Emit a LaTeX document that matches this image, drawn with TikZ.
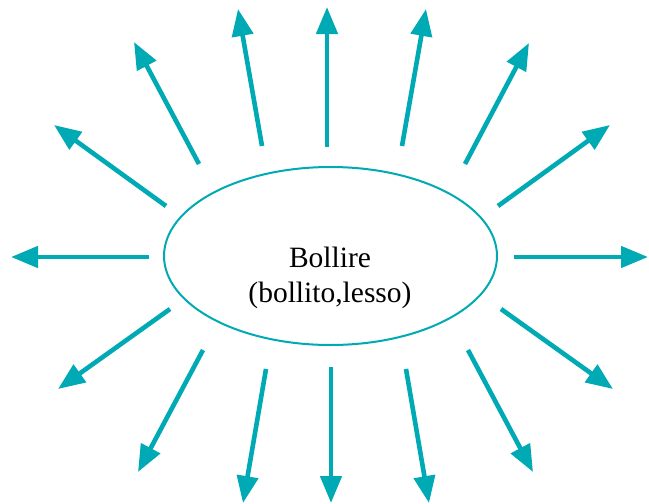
\documentclass[tikz,border=0pt]{standalone}
\usepackage{fontspec}
\setmainfont{Liberation Serif}
\usetikzlibrary{arrows.meta,shapes.geometric}
\definecolor{teal1}{RGB}{0,170,181}
\begin{document}
\begin{tikzpicture}[x=1pt,y=-1pt,
  ray/.style={draw=teal1,line width=4.6pt,-{Triangle[length=27pt,width=21pt]}},
  blob/.style={draw=teal1,line width=2pt,ellipse,minimum width=333pt,minimum height=178pt,inner sep=0pt},
  lbl/.style={align=center,inner sep=0pt,font=\fontsize{29.5}{35}\selectfont}]
\useasboundingbox[fill=white] (0,0) rectangle (649,504);
\node[blob] (e) at (330.5,256) {};
\node[lbl] (t) at (330,278) {Bollire\\(bollito,lesso)};
% tails and tips
\coordinate (a1) at (514,257); \coordinate (b1) at (648,257);
\coordinate (a2) at (149,257); \coordinate (b2) at (11,257);
\coordinate (a3) at (327,147); \coordinate (b3) at (327,7);
\coordinate (a4) at (331,367); \coordinate (b4) at (331,503);
\coordinate (a5) at (402,146); \coordinate (b5) at (426,9);
\coordinate (a6) at (465,164); \coordinate (b6) at (529,43);
\coordinate (a7) at (498,206); \coordinate (b7) at (610,125);
\coordinate (a8) at (501,309); \coordinate (b8) at (613,389);
\coordinate (a9) at (468,350); \coordinate (b9) at (533,472);
\coordinate (a10) at (406,369); \coordinate (b10) at (429,503);
\coordinate (a11) at (266,369); \coordinate (b11) at (243,503);
\coordinate (a12) at (203,350); \coordinate (b12) at (138,472);
\coordinate (a13) at (170,309); \coordinate (b13) at (58,389);
\coordinate (a14) at (166,206); \coordinate (b14) at (54,125);
\coordinate (a15) at (199,164); \coordinate (b15) at (134,42);
\coordinate (a16) at (262,146); \coordinate (b16) at (238,9);
\foreach \i in {1,...,16} {\draw[ray] (a\i) -- (b\i);}
\end{tikzpicture}
\end{document}
